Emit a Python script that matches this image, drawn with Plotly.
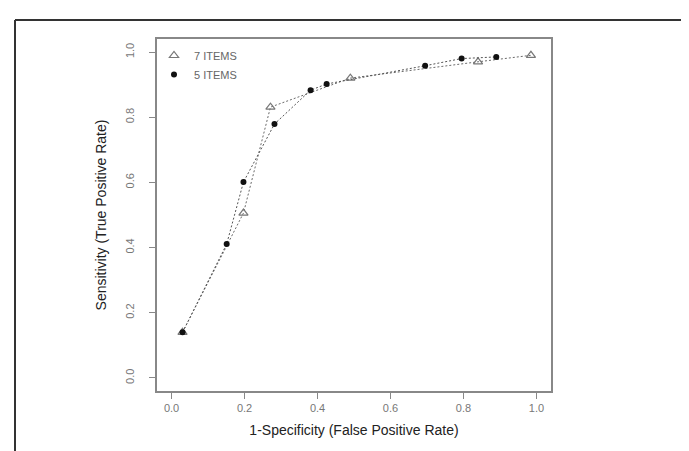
import plotly.graph_objects as go

# 7 ITEMS series
fpr_7 = [0.03, 0.197, 0.271, 0.49, 0.84, 0.985]
tpr_7 = [0.14, 0.506, 0.831, 0.92, 0.97, 0.99]

# 5 ITEMS series
fpr_5 = [0.03, 0.151, 0.197, 0.282, 0.381, 0.425, 0.695, 0.795, 0.89]
tpr_5 = [0.14, 0.411, 0.601, 0.779, 0.883, 0.902, 0.958, 0.98, 0.985]

tick_vals = [0.0, 0.2, 0.4, 0.6, 0.8, 1.0]
tick_text = ["0.0", "0.2", "0.4", "0.6", "0.8", "1.0"]

W, H = 689, 451
L, R, T, B = 149, 146, 31, 68
pw, ph = W - L - R, H - T - B

def px(x):
    return (x - L) / pw

def py(y):
    return (H - B - y) / ph

FONT = "Liberation Sans, Arial, sans-serif"
tri_marker = dict(symbol="triangle-up-open", size=8, color="#777777",
                  line=dict(width=1.2, color="#777777"))
dot_marker = dict(symbol="circle", size=6, color="#111111")

fig = go.Figure()
fig.add_trace(go.Scatter(
    x=fpr_7, y=tpr_7, mode="lines+markers", name="7 ITEMS", showlegend=False,
    line=dict(color="#6a6a6a", width=1, dash="2px,2px"), marker=tri_marker,
))
fig.add_trace(go.Scatter(
    x=fpr_5, y=tpr_5, mode="lines+markers", name="5 ITEMS", showlegend=False,
    line=dict(color="#555555", width=1, dash="2px,2px"), marker=dot_marker,
))
# legend entries (markers only, as in the reference)
fig.add_trace(go.Scatter(x=[None], y=[None], mode="markers", name="7 ITEMS", marker=tri_marker))
fig.add_trace(go.Scatter(x=[None], y=[None], mode="markers", name="5 ITEMS", marker=dot_marker))

axis_common = dict(
    range=[-0.04, 1.04], showgrid=False, zeroline=False,
    showline=True, mirror=True, linecolor="#888888", linewidth=1.5,
    ticks="outside", ticklen=6, tickcolor="#888888", tickwidth=1.2,
    tickvals=tick_vals, ticktext=tick_text,
    tickfont=dict(family=FONT, size=11, color="#777777"),
)

fig.update_layout(
    width=W, height=H,
    margin=dict(l=L, r=R, t=T, b=B),
    paper_bgcolor="white", plot_bgcolor="white",
    xaxis=dict(**axis_common,
               title=dict(text="1-Specificity (False Positive Rate)",
                          font=dict(family=FONT, size=14, color="#222222"),
                          standoff=12)),
    yaxis=dict(**axis_common, tickangle=-90, ticklabelstandoff=11,
               title=dict(text="Sensitivity (True Positive Rate)",
                          font=dict(family=FONT, size=14, color="#222222"),
                          standoff=14)),
    legend=dict(x=px(146), y=py(33), xanchor="left", yanchor="top",
                bgcolor="rgba(0,0,0,0)", borderwidth=0,
                font=dict(family=FONT, size=11, color="#666666"),
                tracegroupgap=0, itemwidth=30),
    showlegend=True,
    shapes=[
        dict(type="line", xref="paper", yref="paper",
             x0=px(7), x1=px(W + 5), y0=py(12), y1=py(12),
             line=dict(color="#333333", width=2)),
        dict(type="line", xref="paper", yref="paper",
             x0=px(7), x1=px(7), y0=py(12), y1=py(H + 5),
             line=dict(color="#333333", width=2)),
    ],
)

fig.write_html("out.html")
